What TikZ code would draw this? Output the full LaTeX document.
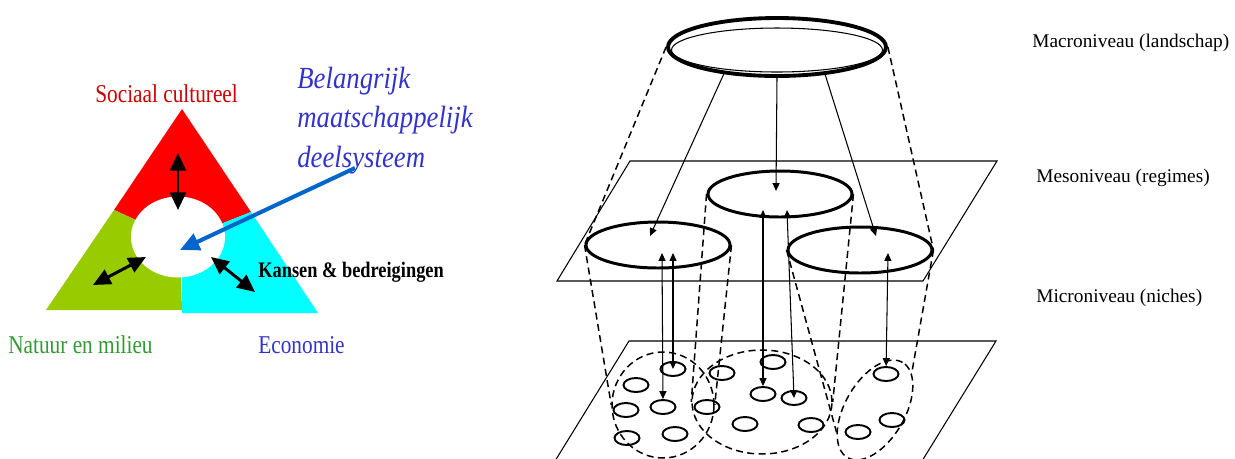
\documentclass[tikz,border=0pt]{standalone}
\usepackage{fontspec}
\setmainfont{Liberation Serif}
\newfontfamily\narrowserif[FakeStretch=0.87]{Liberation Serif}
\newfontfamily\slimserif[FakeStretch=0.83]{Liberation Serif}
\usetikzlibrary{arrows.meta, shapes.geometric, calc}
\definecolor{socialred}{RGB}{255, 0, 0}
\definecolor{natuurgreen}{RGB}{153, 204, 0}
\definecolor{econcyan}{RGB}{0, 255, 255}
\definecolor{pointerblue}{RGB}{0, 102, 204}
\definecolor{textblue}{RGB}{51, 51, 204}
\definecolor{textgreen}{RGB}{51, 153, 51}
\definecolor{textred}{RGB}{204, 0, 0}

\begin{document}
\begin{tikzpicture}[x=0.02cm, y=-0.02cm,
    lbl/.style={anchor=base west, inner sep=0pt, font=\fontsize{14.6}{16}\slimserif},
    level/.style={anchor=base west, inner sep=0pt, font=\fontsize{11}{13}\selectfont},
    relation/.style={{Triangle[length=10pt,width=9pt]}-{Triangle[length=10pt,width=9pt]}, line width=1.7pt},
    link/.style={-{Triangle[length=4.5pt,width=4pt]}, line width=0.6pt},
    duallink/.style={{Triangle[length=4.5pt,width=4pt]}-{Triangle[length=4.5pt,width=4pt]}, line width=0.6pt},
    cone/.style={dash pattern=on 4pt off 2.5pt, line width=0.85pt},
    plane/.style={line width=0.6pt},
    regime/.style={ellipse, draw, line width=1.7pt, inner sep=0pt,
                   minimum width=2.88cm, minimum height=0.92cm},
    niche/.style={ellipse, draw, line width=1.1pt, inner sep=0pt,
                  minimum width=0.5cm, minimum height=0.28cm},
    nichegroup/.style={ellipse, draw, cone, inner sep=0pt}]
        \useasboundingbox (0,0) rectangle (1235,458);
        \clip (0,0) rectangle (1235,458);

        % TRIANGLE
        \coordinate (apex) at (182,109);
        \coordinate (lcorner) at (46,310);
        \coordinate (rcorner) at (318,313);
        \coordinate (lsplit) at (114,210);
        \coordinate (rsplit) at (251,212);
        \coordinate (hub) at (180,240);
        \fill[socialred] (apex) -- (rsplit) -- (hub) -- (lsplit) -- cycle;
        \fill[natuurgreen] (lsplit) -- (hub) -- (182,310) -- (lcorner) -- cycle;
        \fill[econcyan] (rsplit) -- (rcorner) -- (182,313) -- (182,240) -- (hub) -- cycle;
        \node[ellipse, fill=white, inner sep=0pt,
              minimum width=1.88cm, minimum height=1.62cm] (core) at (178,237) {};

        \coordinate (sc1) at (178,153);
        \coordinate (sc2) at (178,210);
        \coordinate (nm1) at (93,285);
        \coordinate (nm2) at (146,257);
        \coordinate (ec1) at (211,257);
        \coordinate (ec2) at (255,292);
        \draw[relation] (sc1) -- (sc2);
        \draw[relation] (nm1) -- (nm2);
        \draw[relation] (ec1) -- (ec2);

        \node[lbl, textred] (sociaal) at (95,102) {Sociaal cultureel};
        \node[lbl, textgreen] (natuur) at (8,353) {Natuur en milieu};
        \node[lbl, textblue] (economie) at (258,353) {Economie};
        \node[lbl, font=\fontsize{12.6}{14}\slimserif\bfseries] (kansen) at (258,277) {Kansen \& bedreigingen};
        \node[lbl, textblue, font=\fontsize{17.5}{20}\narrowserif\itshape] (deel1) at (297,88) {Belangrijk};
        \node[lbl, textblue, font=\fontsize{17.5}{20}\narrowserif\itshape] (deel2) at (297,127) {maatschappelijk};
        \node[lbl, textblue, font=\fontsize{17.5}{20}\narrowserif\itshape] (deel3) at (297,167) {deelsysteem};

        \coordinate (pointer) at (355,168);
        \coordinate (pointertip) at (180,250);
        \draw[-{Triangle[length=11pt,width=10pt]}, pointerblue, line width=2.3pt] (pointer) -- (pointertip);

        % PLANES
        \draw[plane] (630,161) -- (997,161) -- (923,281) -- (557,281) -- cycle;
        \draw[plane] (629,341) -- (996,341) -- (922,461) -- (555,461) -- cycle;

        % MACRO
        \node[ellipse, draw, line width=2.2pt, inner sep=0pt,
              minimum width=4.36cm, minimum height=1.16cm] (macro) at (777,47) {};
        \node[ellipse, draw, line width=0.6pt, inner sep=0pt,
              minimum width=4.22cm, minimum height=0.88cm] (macroin) at (777,50) {};

        % MESO
        \node[regime] (mesoL) at (658,245) {};
        \node[regime] (mesoM) at (780,194) {};
        \node[regime] (mesoR) at (860,250) {};

        % MICRO
        \node[nichegroup, minimum width=2.04cm, minimum height=2.12cm] (microL) at (663,405) {};
        \node[nichegroup, minimum width=2.8cm, minimum height=2.08cm] (microM) at (762,402) {};
        \node[nichegroup, rotate=60, minimum width=2.2cm, minimum height=1.2cm] (microR) at (875,410) {};

        \node[niche] (n1) at (673,369) {};
        \node[niche] (n2) at (636,385) {};
        \node[niche] (n3) at (626,410) {};
        \node[niche] (n4) at (663,407) {};
        \node[niche] (n5) at (627,438) {};
        \node[niche] (n6) at (675,434) {};
        \node[niche] (n7) at (707,407) {};
        \node[niche] (n8) at (722,373) {};
        \node[niche] (n9) at (773,362) {};
        \node[niche] (n10) at (763,394) {};
        \node[niche] (n11) at (794,398) {};
        \node[niche] (n12) at (745,424) {};
        \node[niche] (n13) at (811,425) {};
        \node[niche] (n14) at (886,374) {};
        \node[niche] (n15) at (892,420) {};
        \node[niche] (n16) at (858,432) {};

        % cones
        \draw[cone] (macro.west) -- (mesoL.west);
        \draw[cone] (macro.east) -- (mesoR.east);
        \draw[cone] (mesoL.west) -- (microL.west);
        \draw[cone] (mesoL.east) -- (microL.east);
        \draw[cone] (mesoM.west) -- (microM.west);
        \draw[cone] (mesoM.east) -- (microM.east);
        \draw[cone] (mesoR.west) -- (microR.150);
        \draw[cone] (mesoR.east) -- (microR.345);

        % macro -> meso
        \coordinate (tipL) at (650,236);
        \coordinate (tipM) at (776,191);
        \coordinate (tipR) at (876,236);
        \draw[link] (macro.207) -- (tipL);
        \draw[link] (macro.south) -- (tipM);
        \draw[link] (macro.330) -- (tipR);

        % micro <-> meso
        \coordinate (upA) at (662,253);
        \coordinate (upB) at (673,253);
        \coordinate (upC) at (763,210);
        \coordinate (upD) at (787,210);
        \coordinate (upE) at (888,253);
        \draw[duallink] (upA) -- (n4);
        \draw[duallink] (upB) -- (n1.center);
        \draw[duallink] (upC) -- (n10);
        \draw[duallink] (upD) -- (n11.center);
        \draw[duallink] (upE) -- (n14);

        % LEVELS
        \node[level] (macrolbl) at (1032,47) {Macroniveau (landschap)};
        \node[level] (mesolbl) at (1036,182) {Mesoniveau (regimes)};
        \node[level] (microlbl) at (1036,302) {Microniveau (niches)};
      \end{tikzpicture}
\end{document}
